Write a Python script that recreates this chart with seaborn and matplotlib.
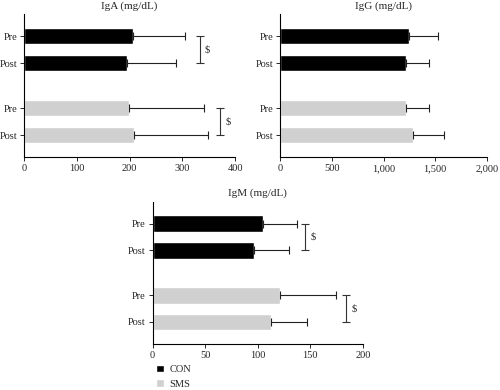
import numpy as np
import pandas as pd
import matplotlib
matplotlib.use("Agg")
from matplotlib import pyplot as plt
from matplotlib.patches import Patch
import seaborn as sns

# data
labels = ["Pre", "Post", "Pre", "Post"]
groups = ["CON", "CON", "SMS", "SMS"]
positions = [0, 1, 2.67, 3.67]

iga_mean = [206, 195, 199, 208]
iga_sd = [99, 93, 142, 141]
igg_mean = [1248, 1219, 1222, 1283]
igg_sd = [276, 225, 213, 298]
igm_mean = [105, 96.5, 121.5, 113]
igm_sd = [32, 33, 52.5, 34]

iga_brackets = [333, 372]
igm_brackets = [145, 184]

palette = {"CON": "black", "SMS": "#d0d0d0"}

sns.set_style("white")
plt.rcParams["font.family"] = ["Liberation Serif", "DejaVu Serif"]


def draw_panel(ax, title, means, sds, xmax, xticks, ticklabels, brackets=None):
    df = pd.DataFrame({"pos": positions, "value": means, "group": groups})
    sns.barplot(data=df, x="value", y="pos", hue="group", palette=palette,
                orient="h", native_scale=True, dodge=False, width=0.62,
                legend=False, ax=ax)
    ax.errorbar(means, positions, xerr=[np.zeros(len(sds)), sds], fmt="none",
                ecolor="#222222", elinewidth=0.8, capsize=3, capthick=0.8)
    if brackets is not None:
        for k, bx in enumerate(brackets):
            y0, y1 = positions[2 * k], positions[2 * k + 1]
            ax.errorbar([bx], [(y0 + y1) / 2], yerr=[[(y1 - y0) / 2]], fmt="none",
                        ecolor="#333333", elinewidth=0.8, capsize=3, capthick=0.8,
                        clip_on=False)
            ax.text(bx + xmax * 0.025, (y0 + y1) / 2, "$", fontsize=7.5,
                    va="center", ha="left")
    ax.set_ylim(positions[-1] + 0.82, positions[0] - 0.82)
    ax.set_yticks(positions)
    ax.set_yticklabels(labels)
    ax.set_xlim(0, xmax)
    ax.set_xticks(xticks)
    ax.set_xticklabels(ticklabels)
    ax.set_xlabel("")
    ax.set_ylabel("")
    ax.set_title(title, fontsize=8, pad=4)
    sns.despine(ax=ax)
    for s in ["left", "bottom"]:
        ax.spines[s].set_color("black")
        ax.spines[s].set_linewidth(0.8)
    ax.tick_params(axis="both", which="both", labelsize=7.5, length=3, width=0.7,
                   direction="out", left=True, bottom=True, pad=2)


fig = plt.figure(figsize=(5, 3.9), dpi=100)
ax1 = fig.add_axes([0.048, 0.597, 0.422, 0.367])
ax2 = fig.add_axes([0.56, 0.597, 0.414, 0.367])
ax3 = fig.add_axes([0.305, 0.118, 0.421, 0.365])

draw_panel(ax1, "IgA (mg/dL)", iga_mean, iga_sd, 400, [0, 100, 200, 300, 400],
           ["0", "100", "200", "300", "400"], iga_brackets)
draw_panel(ax2, "IgG (mg/dL)", igg_mean, igg_sd, 2000, [0, 500, 1000, 1500, 2000],
           ["0", "500", "1,000", "1,500", "2,000"])
draw_panel(ax3, "IgM (mg/dL)", igm_mean, igm_sd, 200, [0, 50, 100, 150, 200],
           ["0", "50", "100", "150", "200"], igm_brackets)

handles = [Patch(facecolor=palette["CON"], label="CON"),
           Patch(facecolor=palette["SMS"], label="SMS")]
fig.legend(handles=handles, loc="upper left", bbox_to_anchor=(0.302, 0.078),
           frameon=False, fontsize=7.5, handlelength=0.7, handleheight=0.7,
           handletextpad=0.6, labelspacing=0.5, borderpad=0)

fig.savefig("out.png", dpi=100)
